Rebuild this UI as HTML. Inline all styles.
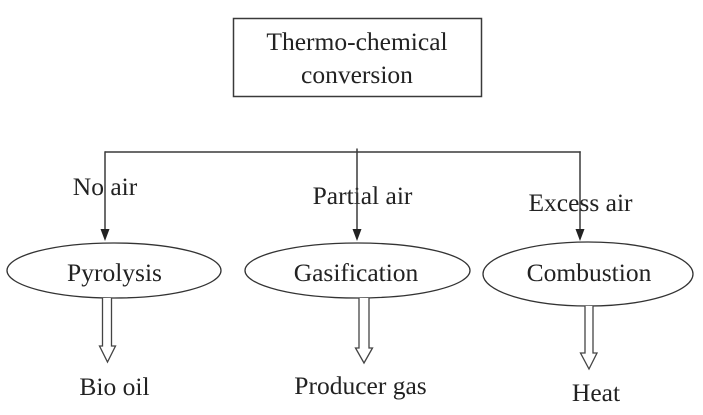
<!DOCTYPE html>
<html>
<head>
<meta charset="utf-8">
<style>
  html, body { margin:0; padding:0; background:#fff; }
  body { width:703px; height:415px; overflow:hidden; font-family: "Liberation Serif", "Noto Serif CJK SC", "DejaVu Serif", serif; }
  svg { display:block; }
  svg text { font-family: "Liberation Serif", "Noto Serif CJK SC", "DejaVu Serif", serif; font-size:25.5px; fill:#222; text-anchor:middle; }
</style>
</head>
<body>
<svg width="703" height="415" viewBox="0 0 703 415" xmlns="http://www.w3.org/2000/svg">
  <!-- Title box -->
  <rect x="233.5" y="18.5" width="248" height="78" fill="#fff" stroke="#3a3a3a" stroke-width="1.5"/>
  <g font-family="'Liberation Serif', 'Noto Serif CJK SC', 'DejaVu Serif', serif" font-size="25.5" text-anchor="middle" fill="#222">
  <text x="357" y="50">Thermo-chemical</text>
  <text x="357" y="83">conversion</text>

  <!-- Edge labels -->
  <text x="105" y="195">No air</text>
  <text x="362.5" y="204">Partial air</text>
  <text x="580.5" y="211">Excess air</text>

  <text x="114.5" y="281">Pyrolysis</text>
  <text x="356" y="281">Gasification</text>
  <text x="589" y="281">Combustion</text>

  <!-- Outputs -->
  <text x="114.5" y="395">Bio oil</text>
  <text x="360.5" y="394">Producer gas</text>
  <text x="596" y="401">Heat</text>
  </g>

  <!-- Distribution line -->
  <line x1="105" y1="152" x2="580.7" y2="152" stroke="#3a3a3a" stroke-width="1.5"/>
  <line x1="105" y1="151.3" x2="105" y2="230" stroke="#3a3a3a" stroke-width="1.5"/>
  <line x1="357" y1="148.5" x2="357" y2="230" stroke="#3a3a3a" stroke-width="1.5"/>
  <line x1="580" y1="151.3" x2="580" y2="230" stroke="#3a3a3a" stroke-width="1.5"/>

  <!-- filled arrowheads -->
  <polygon points="100.5,229 109.5,229 105,241" fill="#222"/>
  <polygon points="352.5,229 361.5,229 357,241" fill="#222"/>
  <polygon points="575.5,229 584.5,229 580,241" fill="#222"/>

  <!-- Ellipses -->
  <ellipse cx="114" cy="270.5" rx="107" ry="27.5" fill="none" stroke="#333" stroke-width="1.3"/>
  <ellipse cx="357.5" cy="270.5" rx="112.5" ry="27.5" fill="none" stroke="#333" stroke-width="1.3"/>
  <ellipse cx="588" cy="274" rx="105" ry="32" fill="none" stroke="#333" stroke-width="1.3"/>

  <!-- Hollow arrows -->
  <polyline points="102.5,298 102.5,346 99.5,346 107.5,362 115.5,346 111.5,346 111.5,298" fill="#fff" stroke="#444" stroke-width="1.3"/>
  <polyline points="359,298 359,348 355.5,348 364,363 372.5,348 369,348 369,298" fill="#fff" stroke="#444" stroke-width="1.3"/>
  <polyline points="585,306 585,353 580.5,353 589,369 597,353 593,353 593,306" fill="#fff" stroke="#444" stroke-width="1.3"/>
</svg>
</body>
</html>
